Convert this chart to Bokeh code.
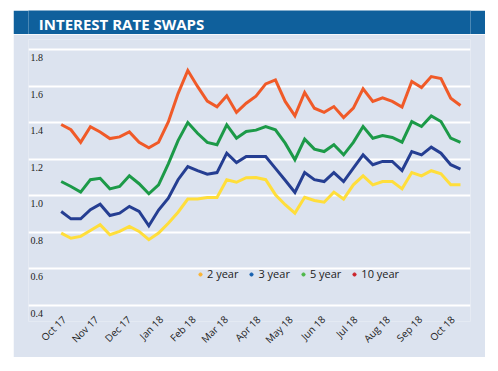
import numpy as np
from bokeh.plotting import figure
from bokeh.layouts import column
from bokeh.models import (Range1d, FixedTicker, Label, LabelSet, Legend, LegendItem,
                          ColumnDataSource)
from bokeh.embed import file_html
from bokeh.resources import INLINE

title_text = "INTEREST RATE SWAPS"
month_labels = ["Oct 17", "Nov 17", "Dec 17", "Jan 18", "Feb 18", "Mar 18", "Apr 18",
                "May 18", "Jun 18", "Jul 18", "Aug 18", "Sep 18", "Oct 18"]
y_ticks = [0.4, 0.6, 0.8, 1.0, 1.2, 1.4, 1.6, 1.8]
y_tick_labels = ["0.4", "0.6", "0.8", "1.0", "1.2", "1.4", "1.6", "1.8"]

yr2 = [0.796, 0.768, 0.778, 0.810, 0.842, 0.787, 0.805, 0.832, 0.805, 0.760,
       0.796, 0.850, 0.910, 0.982, 0.982, 0.991, 0.991, 1.088, 1.074, 1.099,
       1.100, 1.088, 1.006, 0.951, 0.905, 0.992, 0.974, 0.965, 1.020, 0.982,
       1.060, 1.109, 1.060, 1.078, 1.078, 1.038, 1.127, 1.109, 1.137, 1.120,
       1.060, 1.060]
yr3 = [0.914, 0.874, 0.874, 0.924, 0.954, 0.892, 0.905, 0.942, 0.914, 0.836,
       0.922, 0.987, 1.088, 1.160, 1.138, 1.118, 1.127, 1.233, 1.182, 1.215,
       1.215, 1.215, 1.150, 1.085, 1.018, 1.127, 1.088, 1.078, 1.127, 1.078,
       1.151, 1.224, 1.170, 1.188, 1.188, 1.138, 1.242, 1.224, 1.266, 1.233,
       1.170, 1.146]
yr5 = [1.078, 1.051, 1.020, 1.088, 1.096, 1.038, 1.051, 1.109, 1.066, 1.011,
       1.060, 1.175, 1.302, 1.401, 1.342, 1.292, 1.279, 1.388, 1.315, 1.352,
       1.359, 1.379, 1.361, 1.288, 1.197, 1.310, 1.255, 1.242, 1.279, 1.224,
       1.292, 1.379, 1.315, 1.330, 1.319, 1.293, 1.406, 1.379, 1.437, 1.406,
       1.315, 1.292]
yr10 = [1.390, 1.361, 1.292, 1.378, 1.349, 1.313, 1.322, 1.349, 1.292, 1.262,
        1.293, 1.404, 1.559, 1.685, 1.598, 1.518, 1.487, 1.547, 1.456, 1.506,
        1.545, 1.612, 1.634, 1.516, 1.437, 1.565, 1.479, 1.456, 1.488, 1.428,
        1.479, 1.585, 1.516, 1.536, 1.516, 1.485, 1.625, 1.592, 1.652, 1.641,
        1.534, 1.494]

series_names = ["2 year", "3 year", "5 year", "10 year"]
line_colors = ["#FFDE3B", "#253E92", "#1C9A48", "#F05A28"]
dot_colors = ["#FBB432", "#1560B0", "#4CB848", "#CC2229"]

PANEL = "#DCE3EF"
HEADER = "#0F609C"
FONT = "Open Sans"

n = len(yr2)
x = list(range(n))

# Header strip
header = figure(width=472, height=24, output_backend="svg", toolbar_location=None,
                x_range=Range1d(0, 472), y_range=Range1d(0, 24),
                min_border=0, outline_line_color=None,
                background_fill_color=HEADER, border_fill_color=HEADER)
header.axis.visible = False
header.grid.visible = False
header.add_layout(Label(x=11, y=11, text=title_text, text_color="white",
                        text_font=FONT, text_font_style="bold", text_font_size="15px",
                        text_baseline="middle"))

# Main chart
x0, x1 = -3.357, 42.03
y0, y1 = 0.3125, 1.8547
p = figure(width=472, height=323, output_backend="svg", toolbar_location=None,
           x_range=Range1d(x0, x1), y_range=Range1d(y0, y1),
           min_border_left=15, min_border_right=15, min_border_top=5,
           min_border_bottom=36, outline_line_color=None,
           background_fill_color=PANEL, border_fill_color=PANEL, y_axis_location=None)

p.ygrid.ticker = FixedTicker(ticks=y_ticks)
p.ygrid.grid_line_color = "white"
p.ygrid.grid_line_width = 2
p.xgrid.visible = False

# y tick labels sit just below each gridline, inside the plot area
ylab_src = ColumnDataSource(dict(x=[x0 + 0.2] * len(y_ticks), y=y_ticks, text=y_tick_labels))
p.add_layout(LabelSet(x="x", y="y", text="text", source=ylab_src,
                      text_font=FONT, text_font_size="10px", text_color="#222222",
                      text_align="left", text_baseline="middle", y_offset=-8))

month_ticks = list(np.linspace(0.3, 40.2, len(month_labels)))
p.xaxis.ticker = FixedTicker(ticks=month_ticks)
p.xaxis.major_label_overrides = {t: l for t, l in zip(month_ticks, month_labels)}
p.xaxis.major_label_orientation = np.pi / 4
p.xaxis.axis_line_color = None
p.xaxis.major_tick_line_color = None
p.xaxis.minor_tick_line_color = None
p.xaxis.major_label_text_font = FONT
p.xaxis.major_label_text_font_size = "10px"
p.xaxis.major_label_text_color = "#222222"
p.xaxis.major_label_standoff = -10

for ys, c in zip([yr10, yr5, yr3, yr2], [line_colors[3], line_colors[2], line_colors[1], line_colors[0]]):
    p.line(x, ys, line_color=c, line_width=3, line_join="miter")

items = []
for name, c in zip(series_names, dot_colors):
    r = p.scatter(x=[x[0]], y=[np.nan], marker="circle", size=7, fill_color=c, line_color=c)
    items.append(LegendItem(label=name, renderers=[r]))
legend = Legend(items=items, orientation="horizontal", location=(168, 40),
                background_fill_alpha=0, border_line_color=None,
                label_text_font=FONT, label_text_font_size="11px",
                label_text_color="#222222", glyph_width=8, glyph_height=8,
                label_standoff=3, spacing=9, padding=0, margin=0,
                label_height=12)
p.add_layout(legend, "center")

layout = column(header, p, spacing=0, styles={"margin-left": "13px", "margin-top": "10px"})
open("out.html", "w").write(file_html(layout, INLINE))
